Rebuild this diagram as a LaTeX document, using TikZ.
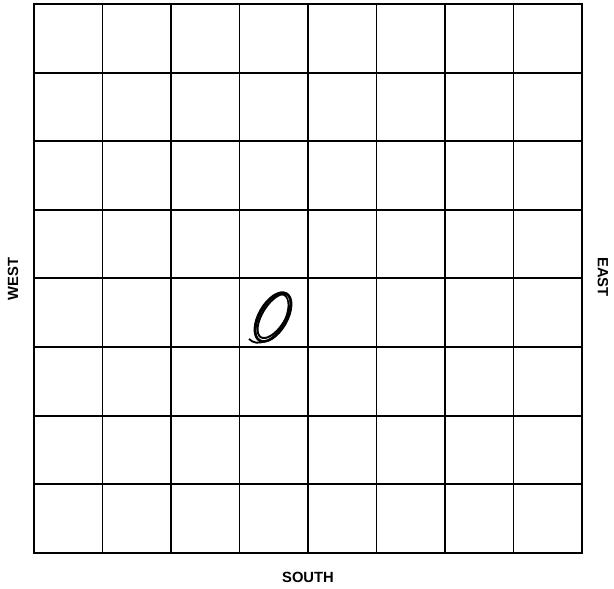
\documentclass[tikz,border=0pt]{standalone}
\usepackage{fontspec}
\setsansfont{Liberation Sans}
\usepackage{tikz}
\usetikzlibrary{positioning}

\begin{document}
\begin{tikzpicture}[x=0.025cm,y=-0.025cm,font=\sffamily\bfseries\fontsize{10.5}{12}\selectfont]
        \useasboundingbox (0,0) rectangle (614,588);
        % grid of 8 x 8 squares
        \foreach \i in {1,...,7} {
          \draw[line width=1.4pt] (34+68.5*\i,4) -- (34+68.5*\i,553);
          \draw[line width=1.4pt] (34,4+68.6*\i) -- (582,4+68.6*\i);
        }
        \draw[line width=2.1pt] (34,4) rectangle (582,553);
        % the loop
        \draw[line width=1.8pt,rotate around={60:(273,317)}] (273,317) ellipse [x radius=27,y radius=14];
        \draw[line width=1.4pt,rotate around={58:(274,316)}] (274,316) ellipse [x radius=25,y radius=11.5];
        \draw[line width=1.2pt,rotate around={62:(272,318)}] (272,318) ellipse [x radius=26,y radius=12.5];
        \draw[line width=1.3pt] (249,339) .. controls (253,343) and (259,344) .. (265,341);
        % labels
        \node[rotate=90] (west) at (13,279) {WEST};
        \node[rotate=-90] (east) at (603,277) {EAST};
        \node (south) at (308,577) {SOUTH};
      \end{tikzpicture}
\end{document}
